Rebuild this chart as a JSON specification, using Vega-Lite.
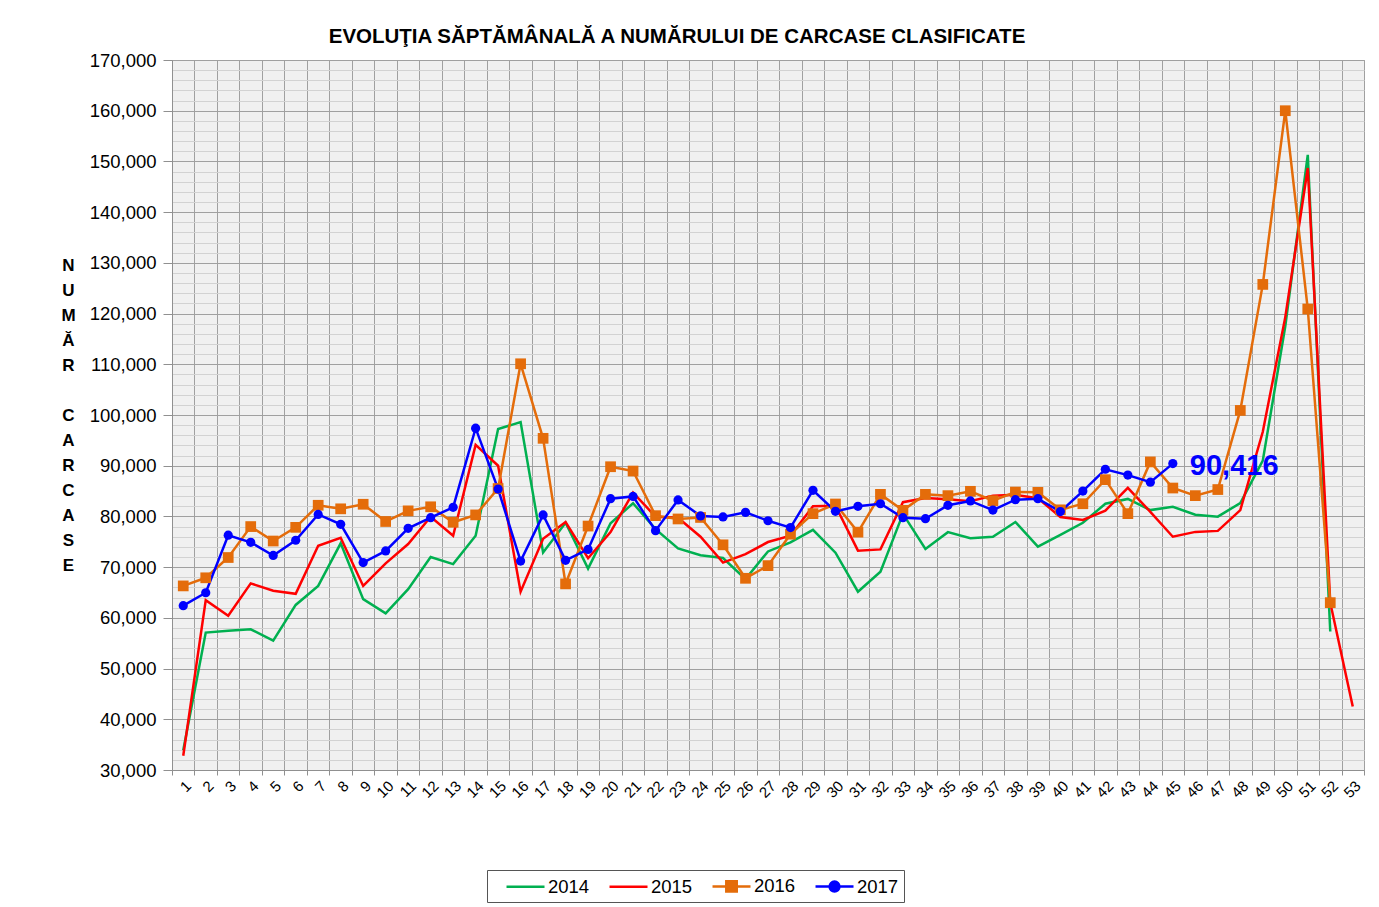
{
"$schema": "https://vega.github.io/schema/vega-lite/v6.json",
"autosize": "none",
"width": 1192,
"height": 710,
"padding": {"left": 172, "top": 60, "right": 15, "bottom": 137},
"background": "white",
"config": {
  "font": "Liberation Sans",
  "view": {"fill": "#f0f0f0", "stroke": "#a0a0a0", "strokeWidth": 1},
  "legend": {"orient": "none", "legendX": 315, "legendY": 810, "direction": "horizontal", "strokeColor": "#555555", "strokeWidth": 1, "padding": 5, "fillColor": "white", "labelFontSize": 18.5, "labelFont": "Liberation Sans", "labelColor": "black", "symbolSize": 361, "symbolStrokeWidth": 2.5, "symbolOpacity": 1, "columnPadding": 5, "labelOffset": 34}
},
"title": {"text": "EVOLUŢIA SĂPTĂMÂNALĂ A NUMĂRULUI DE CARCASE  CLASIFICATE", "fontSize": 20.5, "fontWeight": "bold", "font": "Liberation Sans", "color": "black", "anchor": "middle", "frame": "group", "dx": -91, "offset": 4},
"data": {"values": [
{"week":1,"year":"2014","v":33900},{"week":2,"year":"2014","v":57100},{"week":3,"year":"2014","v":57450},{"week":4,"year":"2014","v":57750},{"week":5,"year":"2014","v":55500},{"week":6,"year":"2014","v":62550},{"week":7,"year":"2014","v":66300},{"week":8,"year":"2014","v":74700},{"week":9,"year":"2014","v":63700},{"week":10,"year":"2014","v":60900},{"week":11,"year":"2014","v":65650},{"week":12,"year":"2014","v":72000},{"week":13,"year":"2014","v":70600},{"week":14,"year":"2014","v":76200},{"week":15,"year":"2014","v":97250},{"week":16,"year":"2014","v":98600},{"week":17,"year":"2014","v":72900},{"week":18,"year":"2014","v":78750},{"week":19,"year":"2014","v":69700},{"week":20,"year":"2014","v":78650},{"week":21,"year":"2014","v":82600},{"week":22,"year":"2014","v":77500},{"week":23,"year":"2014","v":73700},{"week":24,"year":"2014","v":72350},{"week":25,"year":"2014","v":71800},{"week":26,"year":"2014","v":67650},{"week":27,"year":"2014","v":73100},{"week":28,"year":"2014","v":74900},{"week":29,"year":"2014","v":77350},{"week":30,"year":"2014","v":72850},{"week":31,"year":"2014","v":65150},{"week":32,"year":"2014","v":69100},{"week":33,"year":"2014","v":80500},{"week":34,"year":"2014","v":73600},{"week":35,"year":"2014","v":76900},{"week":36,"year":"2014","v":75700},{"week":37,"year":"2014","v":76000},{"week":38,"year":"2014","v":78900},{"week":39,"year":"2014","v":74050},{"week":40,"year":"2014","v":76350},{"week":41,"year":"2014","v":78750},{"week":42,"year":"2014","v":82500},{"week":43,"year":"2014","v":83450},{"week":44,"year":"2014","v":81250},{"week":45,"year":"2014","v":81900},{"week":46,"year":"2014","v":80350},{"week":47,"year":"2014","v":79950},{"week":48,"year":"2014","v":82650},{"week":49,"year":"2014","v":91000},{"week":50,"year":"2014","v":117500},{"week":51,"year":"2014","v":151300},{"week":52,"year":"2014","v":57300},
{"week":1,"year":"2015","v":32800},{"week":2,"year":"2015","v":63500},{"week":3,"year":"2015","v":60400},{"week":4,"year":"2015","v":66800},{"week":5,"year":"2015","v":65350},{"week":6,"year":"2015","v":64750},{"week":7,"year":"2015","v":74200},{"week":8,"year":"2015","v":75800},{"week":9,"year":"2015","v":66300},{"week":10,"year":"2015","v":70750},{"week":11,"year":"2015","v":74550},{"week":12,"year":"2015","v":79950},{"week":13,"year":"2015","v":76200},{"week":14,"year":"2015","v":94100},{"week":15,"year":"2015","v":90000},{"week":16,"year":"2015","v":65150},{"week":17,"year":"2015","v":75600},{"week":18,"year":"2015","v":78900},{"week":19,"year":"2015","v":71750},{"week":20,"year":"2015","v":76900},{"week":21,"year":"2015","v":84700},{"week":22,"year":"2015","v":79950},{"week":23,"year":"2015","v":79750},{"week":24,"year":"2015","v":76000},{"week":25,"year":"2015","v":70900},{"week":26,"year":"2015","v":72550},{"week":27,"year":"2015","v":74950},{"week":28,"year":"2015","v":76200},{"week":29,"year":"2015","v":82000},{"week":30,"year":"2015","v":82100},{"week":31,"year":"2015","v":73250},{"week":32,"year":"2015","v":73500},{"week":33,"year":"2015","v":82800},{"week":34,"year":"2015","v":83650},{"week":35,"year":"2015","v":83400},{"week":36,"year":"2015","v":83000},{"week":37,"year":"2015","v":84100},{"week":38,"year":"2015","v":84250},{"week":39,"year":"2015","v":83600},{"week":40,"year":"2015","v":79900},{"week":41,"year":"2015","v":79300},{"week":42,"year":"2015","v":81150},{"week":43,"year":"2015","v":85650},{"week":44,"year":"2015","v":80900},{"week":45,"year":"2015","v":76000},{"week":46,"year":"2015","v":76950},{"week":47,"year":"2015","v":77150},{"week":48,"year":"2015","v":81250},{"week":49,"year":"2015","v":96700},{"week":50,"year":"2015","v":119300},{"week":51,"year":"2015","v":148700},{"week":52,"year":"2015","v":63000},{"week":53,"year":"2015","v":42500},
{"week":1,"year":"2016","v":66300},{"week":2,"year":"2016","v":67900},{"week":3,"year":"2016","v":71900},{"week":4,"year":"2016","v":78000},{"week":5,"year":"2016","v":75150},{"week":6,"year":"2016","v":77850},{"week":7,"year":"2016","v":82200},{"week":8,"year":"2016","v":81500},{"week":9,"year":"2016","v":82400},{"week":10,"year":"2016","v":79000},{"week":11,"year":"2016","v":81100},{"week":12,"year":"2016","v":81900},{"week":13,"year":"2016","v":78850},{"week":14,"year":"2016","v":80300},{"week":15,"year":"2016","v":85500},{"week":16,"year":"2016","v":110100},{"week":17,"year":"2016","v":95400},{"week":18,"year":"2016","v":66700},{"week":19,"year":"2016","v":78100},{"week":20,"year":"2016","v":89800},{"week":21,"year":"2016","v":88950},{"week":22,"year":"2016","v":80150},{"week":23,"year":"2016","v":79500},{"week":24,"year":"2016","v":79800},{"week":25,"year":"2016","v":74400},{"week":26,"year":"2016","v":67800},{"week":27,"year":"2016","v":70300},{"week":28,"year":"2016","v":76500},{"week":29,"year":"2016","v":80550},{"week":30,"year":"2016","v":82450},{"week":31,"year":"2016","v":76900},{"week":32,"year":"2016","v":84350},{"week":33,"year":"2016","v":81200},{"week":34,"year":"2016","v":84350},{"week":35,"year":"2016","v":84100},{"week":36,"year":"2016","v":84950},{"week":37,"year":"2016","v":83100},{"week":38,"year":"2016","v":84800},{"week":39,"year":"2016","v":84750},{"week":40,"year":"2016","v":81300},{"week":41,"year":"2016","v":82500},{"week":42,"year":"2016","v":87250},{"week":43,"year":"2016","v":80550},{"week":44,"year":"2016","v":90750},{"week":45,"year":"2016","v":85600},{"week":46,"year":"2016","v":84100},{"week":47,"year":"2016","v":85300},{"week":48,"year":"2016","v":100900},{"week":49,"year":"2016","v":125750},{"week":50,"year":"2016","v":160000},{"week":51,"year":"2016","v":120900},{"week":52,"year":"2016","v":63000},
{"week":1,"year":"2017","v":62400},{"week":2,"year":"2017","v":64950},{"week":3,"year":"2017","v":76300},{"week":4,"year":"2017","v":74900},{"week":5,"year":"2017","v":72300},{"week":6,"year":"2017","v":75300},{"week":7,"year":"2017","v":80400},{"week":8,"year":"2017","v":78450},{"week":9,"year":"2017","v":70900},{"week":10,"year":"2017","v":73200},{"week":11,"year":"2017","v":77650},{"week":12,"year":"2017","v":79750},{"week":13,"year":"2017","v":81800},{"week":14,"year":"2017","v":97400},{"week":15,"year":"2017","v":85400},{"week":16,"year":"2017","v":71200},{"week":17,"year":"2017","v":80300},{"week":18,"year":"2017","v":71350},{"week":19,"year":"2017","v":73500},{"week":20,"year":"2017","v":83500},{"week":21,"year":"2017","v":83950},{"week":22,"year":"2017","v":77200},{"week":23,"year":"2017","v":83250},{"week":24,"year":"2017","v":80100},{"week":25,"year":"2017","v":79900},{"week":26,"year":"2017","v":80800},{"week":27,"year":"2017","v":79150},{"week":28,"year":"2017","v":77800},{"week":29,"year":"2017","v":85150},{"week":30,"year":"2017","v":81000},{"week":31,"year":"2017","v":82000},{"week":32,"year":"2017","v":82500},{"week":33,"year":"2017","v":79750},{"week":34,"year":"2017","v":79550},{"week":35,"year":"2017","v":82200},{"week":36,"year":"2017","v":83050},{"week":37,"year":"2017","v":81250},{"week":38,"year":"2017","v":83300},{"week":39,"year":"2017","v":83500},{"week":40,"year":"2017","v":80950},{"week":41,"year":"2017","v":85000},{"week":42,"year":"2017","v":89300},{"week":43,"year":"2017","v":88150},{"week":44,"year":"2017","v":86750},{"week":45,"year":"2017","v":90416}
]},
"encoding": {
  "x": {"field": "week", "type": "ordinal", "scale": {"type": "band", "paddingInner": 0, "paddingOuter": 0},
    "axis": {"tickBand": "extent", "grid": true, "gridColor": "#a0a0a0", "gridWidth": 1, "labelAngle": -45, "labelFontSize": 15, "labelColor": "black", "tickColor": "#909090", "tickSize": 5, "domainColor": "#909090", "title": null, "labelPadding": 3}},
  "y": {"field": "v", "type": "quantitative", "scale": {"domain": [30000, 170000], "nice": false, "zero": false},
    "axis": {
      "values": [30000,32000,34000,36000,38000,40000,42000,44000,46000,48000,50000,52000,54000,56000,58000,60000,62000,64000,66000,68000,70000,72000,74000,76000,78000,80000,82000,84000,86000,88000,90000,92000,94000,96000,98000,100000,102000,104000,106000,108000,110000,112000,114000,116000,118000,120000,122000,124000,126000,128000,130000,132000,134000,136000,138000,140000,142000,144000,146000,148000,150000,152000,154000,156000,158000,160000,162000,164000,166000,168000,170000],
      "labelExpr": "datum.value % 10000 === 0 ? format(datum.value, ',') : ''",
      "labelOverlap": false,
      "labelBound": false,
      "gridColor": {"condition": {"test": "datum.value % 10000 === 0", "value": "#a0a0a0"}, "value": "#d2d2d2"},
      "tickOpacity": {"condition": {"test": "datum.value % 10000 === 0", "value": 1}, "value": 0},
      "tickSize": 9, "tickColor": "#909090", "domainColor": "#909090",
      "labelFontSize": 18.5, "labelColor": "black", "labelPadding": 7,
      "title": ["N","U","M","Ă","R","\u200b","C","A","R","C","A","S","E"],
      "titleAngle": 0, "titleAlign": "center", "titleBaseline": "top", "titleX": -104, "titleY": 197,
      "titleFontSize": 17, "titleFontWeight": "bold", "titleColor": "black", "titleLineHeight": 25
    }}
},
"layer": [
  {"mark": {"type": "line", "strokeWidth": 2.5},
   "encoding": {"color": {"field": "year", "type": "nominal", "title": null,
      "scale": {"domain": ["2014","2015","2016","2017"], "range": ["#00b050","#ff0000","#e46c0a","#0000ff"]},
      "legend": {"encode": {"symbols": {"update": {"fill": {"scale": "color", "field": "value"}, "stroke": {"scale": "color", "field": "value"}, "opacity": {"value": 1}, "strokeWidth": {"value": 2.5}}}}}}}},
  {"transform": [{"filter": "datum.year === '2016'"}],
   "mark": {"type": "point", "shape": "square", "filled": true, "size": 115, "opacity": 1},
   "encoding": {"color": {"field": "year", "type": "nominal", "title": null}}},
  {"transform": [{"filter": "datum.year === '2017'"}],
   "mark": {"type": "point", "shape": "circle", "filled": true, "size": 85, "opacity": 1},
   "encoding": {"color": {"field": "year", "type": "nominal", "title": null}}},
  {"transform": [{"filter": "datum.year === '2017' && datum.week === 45"}],
   "mark": {"type": "text", "align": "left", "baseline": "middle", "dx": 17, "dy": 2, "fontSize": 29, "fontWeight": "bold", "color": "#0000ff"},
   "encoding": {"text": {"field": "v", "type": "quantitative", "format": ","}}},
  {"transform": [{"filter": "datum.week === 1"}],
   "mark": {"type": "point", "filled": true, "opacity": 0},
   "encoding": {"color": {"field": "year", "type": "nominal", "title": null},
     "shape": {"field": "year", "type": "nominal", "title": null,
       "scale": {"domain": ["2014","2015","2016","2017"], "range": ["M0.37,0H4.37", "M0.37,0H4.37", "M0.37,0H4.37M1.82,-0.55H2.92V0.55H1.82Z", "M0.37,0H4.37M2.89,0A0.52,0.52,0,1,1,1.85,0A0.52,0.52,0,1,1,2.89,0Z"]}}}}
]
}
